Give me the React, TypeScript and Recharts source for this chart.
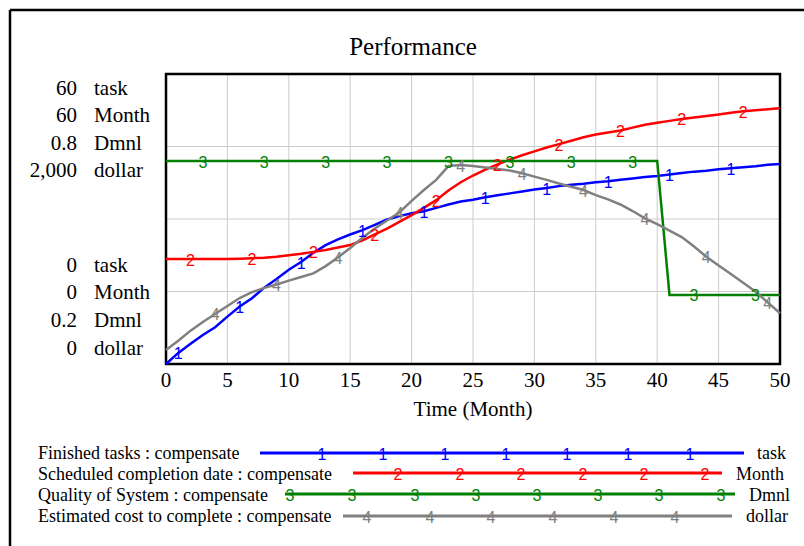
import { LineChart, Line, XAxis, YAxis, CartesianGrid, ReferenceArea } from "recharts";

// values read per month, t = 0..50
const finishedTasks = [
  0, 2.3, 4.2, 6.0, 7.6, 9.8, 11.9, 13.6, 15.8, 17.6, 19.5, 21.1, 23.0, 24.6, 25.8, 26.8, 27.7,
  28.8, 29.9, 30.6, 31.2, 31.6, 32.3, 33.0, 33.6, 34.0, 34.5, 34.9, 35.3, 35.7, 36.1, 36.4, 36.8,
  37.1, 37.3, 37.6, 37.8, 38.1, 38.4, 38.7, 38.9, 39.2, 39.5, 39.8, 40.0, 40.3, 40.5, 40.7, 40.9,
  41.2, 41.4,
];
const scheduledDate = [
  21.7, 21.7, 21.7, 21.7, 21.7, 21.7, 21.8, 21.9, 22.0, 22.2, 22.5, 22.8, 23.2, 23.6, 24.1, 24.6,
  25.6, 26.8, 28.0, 29.4, 30.8, 32.3, 33.9, 35.9, 37.6, 39.0, 40.2, 41.3, 42.3, 43.2, 44.0, 44.8,
  45.5, 46.2, 46.9, 47.5, 47.9, 48.3, 48.9, 49.5, 49.9, 50.3, 50.7, 51.0, 51.3, 51.6, 52.0, 52.3,
  52.5, 52.7, 52.9,
];
const qualityOfSystem = [
  0.62, 0.62, 0.62, 0.62, 0.62, 0.62, 0.62, 0.62, 0.62, 0.62, 0.62, 0.62, 0.62, 0.62, 0.62, 0.62,
  0.62, 0.62, 0.62, 0.62, 0.62, 0.62, 0.62, 0.62, 0.62, 0.62, 0.62, 0.62, 0.62, 0.62, 0.62, 0.62,
  0.62, 0.62, 0.62, 0.62, 0.62, 0.62, 0.62, 0.62, 0.62, 0.343, 0.343, 0.343, 0.343, 0.343, 0.343,
  0.343, 0.343, 0.343, 0.343,
];
const estimatedCost = [
  97, 160, 230, 290, 345, 400, 455, 495, 525, 548, 575, 600, 625, 675, 735, 800, 870, 935, 990,
  1045, 1125, 1200, 1270, 1365, 1372, 1366, 1355, 1345, 1335, 1315, 1292, 1270, 1245, 1222, 1200,
  1165, 1135, 1100, 1055, 1005, 965, 920, 875, 810, 740, 680, 620, 560, 500, 425, 350,
];

const timeTicks = [0, 5, 10, 15, 20, 25, 30, 35, 40, 45, 50];
const taskTicks = [0, 15, 30, 45, 60];

const units = ["task", "Month", "Dmnl", "dollar"];
const topValues = ["60", "60", "0.8", "2,000"];
const bottomValues = ["0", "0", "0.2", "0"];

const series = [
  { key: "tasks", name: "Finished tasks : compensate", unit: "task", axis: "task", color: "#0000ff", mark: "1", marks: [1, 6, 11, 16, 21, 26, 31, 36, 41, 46] },
  { key: "sched", name: "Scheduled completion date : compensate", unit: "Month", axis: "month", color: "#ff0000", mark: "2", marks: [2, 7, 12, 17, 22, 27, 32, 37, 42, 47] },
  { key: "quality", name: "Quality of System : compensate", unit: "Dmnl", axis: "dmnl", color: "#008000", mark: "3", marks: [3, 8, 13, 18, 23, 28, 33, 38, 43, 48] },
  { key: "cost", name: "Estimated cost to complete : compensate", unit: "dollar", axis: "dollar", color: "#808080", mark: "4", marks: [4, 9, 14, 19, 24, 29, 34, 39, 44, 49] },
];

const data = finishedTasks.map((v, i) => ({
  t: i,
  tasks: v,
  sched: scheduledDate[i],
  quality: qualityOfSystem[i],
  cost: estimatedCost[i],
}));

const serif = '"Liberation Serif", "Times New Roman", serif';
const sans = '"Liberation Sans", Arial, sans-serif';

// legend rows, placed like the Vensim output
const legendRows = [
  { y: 453, textY: 459, x1: 260, x2: 744, marks: [322, 383, 445, 506, 567, 628, 690], unitX: 757 },
  { y: 473, textY: 480, x1: 353, x2: 722, marks: [398, 460, 521, 583, 644, 705], unitX: 736 },
  { y: 494, textY: 501, x1: 285, x2: 735, marks: [290, 352, 415, 476, 537, 598, 659, 721], unitX: 749 },
  { y: 516, textY: 522, x1: 343, x2: 732, marks: [367, 430, 491, 553, 614, 675], unitX: 746 },
];

function markDot(label: string, color: string, marks: number[]) {
  return (p: any) => {
    const { cx, cy, index } = p;
    if (!marks.includes(index) || cx == null || cy == null) return <g key={`n-${label}-${index}`} />;
    return (
      <text
        key={`m-${label}-${index}`}
        x={cx}
        y={cy + 1}
        textAnchor="middle"
        dominantBaseline="central"
        style={{ fontSize: 16, fontFamily: sans }}
        fill={color}
      >
        {label}
      </text>
    );
  };
}

export default function App() {
  return (
    <div style={{ position: "absolute", left: 0, top: 0, width: 804, height: 546, background: "#fff" }}>
      <div style={{ position: "absolute", left: 0, top: 0 }}>
        <LineChart
          width={804}
          height={546}
          data={data}
          margin={{ top: 74, right: 24, left: 166, bottom: 152 }}
        >
          <CartesianGrid stroke="#cccccc" strokeWidth={1} yAxisId="task" />
          <XAxis
            dataKey="t"
            type="number"
            domain={[0, 50]}
            ticks={timeTicks}
            height={30}
            axisLine={false}
            tickLine={false}
            tickMargin={2}
            interval={0}
            tick={{ fontSize: 21, fontFamily: serif, fill: "#000" }}
          />
          <YAxis yAxisId="task" hide domain={[0, 60]} ticks={taskTicks} />
          <YAxis yAxisId="month" hide domain={[0, 60]} />
          <YAxis yAxisId="dmnl" hide domain={[0.2, 0.8]} />
          <YAxis yAxisId="dollar" hide domain={[0, 2000]} />
          <ReferenceArea
            yAxisId="task"
            x1={0}
            x2={50}
            y1={0}
            y2={60}
            fill="none"
            fillOpacity={0}
            stroke="#000"
            strokeWidth={2.5}
            ifOverflow="visible"
          />
          {series.map((s) => (
            <Line
              key={s.key}
              yAxisId={s.axis}
              dataKey={s.key}
              type="linear"
              stroke={s.color}
              strokeWidth={2.5}
              dot={markDot(s.mark, s.color, s.marks)}
              activeDot={false}
              isAnimationActive={false}
            />
          ))}
        </LineChart>
      </div>
      <svg
        width={804}
        height={546}
        style={{ position: "absolute", left: 0, top: 0, pointerEvents: "none", fontFamily: serif }}
      >
        {/* outer frame, only left and top edges show */}
        <line x1={10} y1={10} x2={10} y2={546} stroke="#000" strokeWidth={2.5} />
        <line x1={10} y1={10} x2={804} y2={10} stroke="#000" strokeWidth={2.5} />

        <text x={413} y={55} textAnchor="middle" style={{ fontSize: 25, fontFamily: serif }} fill="#000">
          Performance
        </text>

        {units.map((u, i) => (
          <g key={`top-${u}`} style={{ fontSize: 21, fontFamily: serif }} fill="#000">
            <text x={77} y={95 + i * 27.4} textAnchor="end">{topValues[i]}</text>
            <text x={94} y={95 + i * 27.4}>{u}</text>
          </g>
        ))}
        {units.map((u, i) => (
          <g key={`bot-${u}`} style={{ fontSize: 21, fontFamily: serif }} fill="#000">
            <text x={77} y={271.5 + i * 27.8} textAnchor="end">{bottomValues[i]}</text>
            <text x={94} y={271.5 + i * 27.8}>{u}</text>
          </g>
        ))}

        <text x={473} y={416} textAnchor="middle" style={{ fontSize: 21, fontFamily: serif }} fill="#000">
          Time (Month)
        </text>

        {series.map((s, i) => {
          const r = legendRows[i];
          return (
            <g key={`leg-${s.key}`}>
              <text x={38} y={r.textY} style={{ fontSize: 18, fontFamily: serif }} fill="#000">{s.name}</text>
              <line x1={r.x1} y1={r.y} x2={r.x2} y2={r.y} stroke={s.color} strokeWidth={3} />
              {r.marks.map((mx) => (
                <text
                  key={mx}
                  x={mx}
                  y={r.y + 1}
                  textAnchor="middle"
                  dominantBaseline="central"
                  style={{ fontSize: 16, fontFamily: sans }}
                  fill={s.color}
                >
                  {s.mark}
                </text>
              ))}
              <text x={r.unitX} y={r.textY} style={{ fontSize: 18, fontFamily: serif }} fill="#000">{s.unit}</text>
            </g>
          );
        })}
      </svg>
    </div>
  );
}
